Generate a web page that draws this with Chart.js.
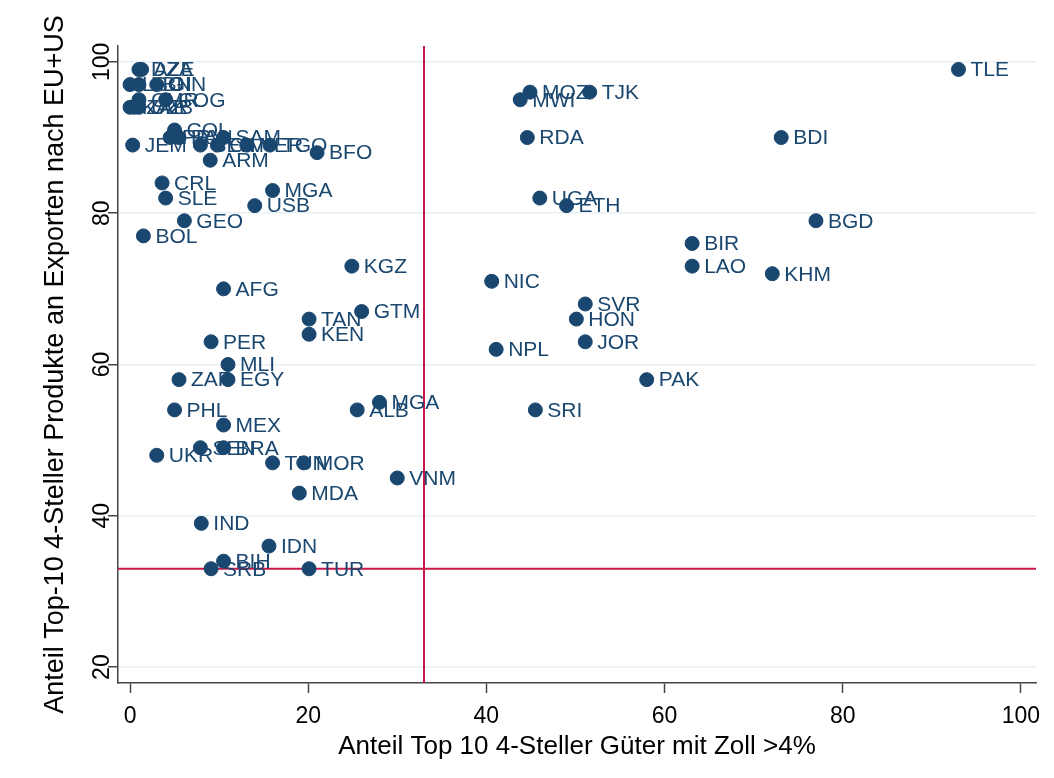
<!DOCTYPE html>
<html>
<head>
<meta charset="utf-8">
<script src="https://cdn.jsdelivr.net/npm/chart.js@4.4.1/dist/chart.umd.min.js"></script>
<style>
  html, body { margin: 0; padding: 0; background: #fff; }
  #wrap { width: 1054px; height: 778px; }
</style>
</head>
<body>
<div id="wrap"><canvas id="chart"></canvas></div>
<script>
// country codes, tariff share (x) and EU+US export share (y)
const countries = [
    'DZA', 'AZE', 'LSO', 'LBN', 'GIN', 'CMR', 'COG', 'KAZ', 'UZB', 'ZAR',
    'COL', 'PRY', 'PAN', 'SAM', 'JEM', 'BEN', 'CIV', 'NER', 'TGO', 'BFO',
    'ARM', 'CRL', 'SLE', 'MGA', 'USB', 'GEO', 'BOL', 'AFG', 'KGZ', 'TAN',
    'KEN', 'GTM', 'PER', 'MLI', 'ZAF', 'EGY', 'PHL', 'ALB', 'MGA', 'MEX',
    'SEN', 'BRA', 'UKR', 'TUN', 'MOR', 'VNM', 'MDA', 'IND', 'IDN', 'BIH',
    'SRB', 'TUR', 'MOZ', 'MWI', 'TJK', 'RDA', 'TLE', 'BDI', 'UGA', 'ETH',
    'BGD', 'BIR', 'LAO', 'KHM', 'NIC', 'SVR', 'HON', 'JOR', 'NPL', 'PAK',
    'SRI'
]
const zollShare = [
    1.0, 1.3, 0.0, 1.0, 3.0, 1.0, 4.0, 0.0, 1.0, 0.5,
    5.0, 4.5, 5.5, 10.5, 0.3, 7.9, 9.8, 13.1, 15.7, 21.0,
    9.0, 3.6, 4.0, 16.0, 14.0, 6.1, 1.5, 10.5, 24.9, 20.1,
    20.1, 26.0, 9.1, 11.0, 5.5, 11.0, 5.0, 25.5, 28.0, 10.5,
    7.9, 10.5, 3.0, 16.0, 19.5, 30.0, 19.0, 8.0, 15.6, 10.5,
    9.1, 20.1, 44.9, 43.8, 51.6, 44.6, 93.0, 73.1, 46.0, 49.0,
    77.0, 63.1, 63.1, 72.1, 40.6, 51.1, 50.1, 51.1, 41.1, 58.0,
    45.5
]
const exportShare = [
    99.0, 99.0, 97.0, 97.0, 97.0, 95.0, 95.0, 94.0, 94.0, 94.0,
    91.0, 90.0, 90.0, 90.0, 89.0, 89.0, 89.0, 89.0, 89.0, 88.0,
    87.0, 84.0, 82.0, 83.0, 81.0, 79.0, 77.0, 70.0, 73.0, 66.0,
    64.0, 67.0, 63.0, 60.0, 58.0, 58.0, 54.0, 54.0, 55.0, 52.0,
    49.0, 49.0, 48.0, 47.0, 47.0, 45.0, 43.0, 39.0, 36.0, 34.0,
    33.0, 33.0, 96.0, 95.0, 96.0, 90.0, 99.0, 90.0, 82.0, 81.0,
    79.0, 76.0, 73.0, 72.0, 71.0, 68.0, 66.0, 63.0, 62.0, 58.0,
    54.0
]
// red reference lines
const refX = 33
const refY = 33
const xTicks = [0, 20, 40, 60, 80, 100]
const yTicks = [20, 40, 60, 80, 100]
const xRange = [-1.35, 101.7]
const yRange = [17.9, 102.1]

const navy = '#1a476f'
const tickFont = { family: "'Liberation Sans', Arial, sans-serif", size: 23 }
const titleFont = { family: "'Liberation Sans', Arial, sans-serif", size: 26 }

const pointLabels = {
    id: 'pointLabels',
    afterDatasetsDraw(chart) {
        const { ctx } = chart
        const meta = chart.getDatasetMeta(0)
        ctx.save()
        ctx.fillStyle = navy
        ctx.font = "21px 'Liberation Sans', Arial, sans-serif"
        ctx.textAlign = 'left'
        ctx.textBaseline = 'middle'
        meta.data.forEach((pt, i) => {
            ctx.fillText(countries[i], pt.x + 12, pt.y + 1)
        })
        ctx.restore()
    }
}

const points = zollShare.map((x, i) => ({ x, y: exportShare[i] }))

new Chart(document.getElementById('chart'), {
    type: 'scatter',
    data: {
        datasets: [{
            data: points,
            backgroundColor: navy,
            borderColor: navy,
            pointRadius: 7,
            pointHoverRadius: 7,
            order: 0
        }, {
            data: [{ x: refX, y: yRange[0] }, { x: refX, y: yRange[1] }],
            showLine: true,
            borderColor: '#c8184a',
            borderWidth: 2,
            pointRadius: 0,
            order: 1
        }, {
            data: [{ x: xRange[0], y: refY }, { x: xRange[1], y: refY }],
            showLine: true,
            borderColor: '#c8184a',
            borderWidth: 2,
            pointRadius: 0,
            order: 1
        }]
    },
    options: {
        responsive: true,
        maintainAspectRatio: false,
        animation: false,
        layout: { padding: { top: 46, right: 18, left: 0, bottom: 0 } },
        plugins: { legend: { display: false }, tooltip: { enabled: false } },
        scales: {
            x: {
                type: 'linear',
                min: xRange[0],
                max: xRange[1],
                afterBuildTicks: scale => { scale.ticks = xTicks.map(value => ({ value })) },
                afterFit: scale => { scale.height = 95 },
                ticks: { color: '#000', font: tickFont, padding: 10, maxRotation: 0 },
                grid: { drawOnChartArea: false, tickColor: '#444', tickLength: 10, tickWidth: 1.5 },
                border: { color: '#444', width: 1.5 },
                title: {
                    display: true,
                    text: 'Anteil Top 10 4-Steller Güter mit Zoll >4%',
                    color: '#000',
                    font: titleFont,
                    padding: { top: 0, bottom: 16 }
                }
            },
            y: {
                type: 'linear',
                min: yRange[0],
                max: yRange[1],
                afterBuildTicks: scale => { scale.ticks = yTicks.map(value => ({ value })) },
                afterFit: scale => { scale.width = 118 },
                ticks: { color: '#000', font: tickFont, padding: -14, minRotation: 90, maxRotation: 90, crossAlign: 'center' },
                grid: { color: '#e8f0f3', lineWidth: 1.5, tickColor: '#444', tickLength: 10, tickWidth: 1.5 },
                border: { color: '#444', width: 1.5 },
                title: {
                    display: true,
                    text: 'Anteil Top-10 4-Steller Produkte an Exporten nach EU+US',
                    color: '#000',
                    font: { family: titleFont.family, size: 27 },
                    padding: { top: 39, bottom: 0 }
                }
            }
        }
    },
    plugins: [pointLabels]
})
</script>
</body>
</html>
